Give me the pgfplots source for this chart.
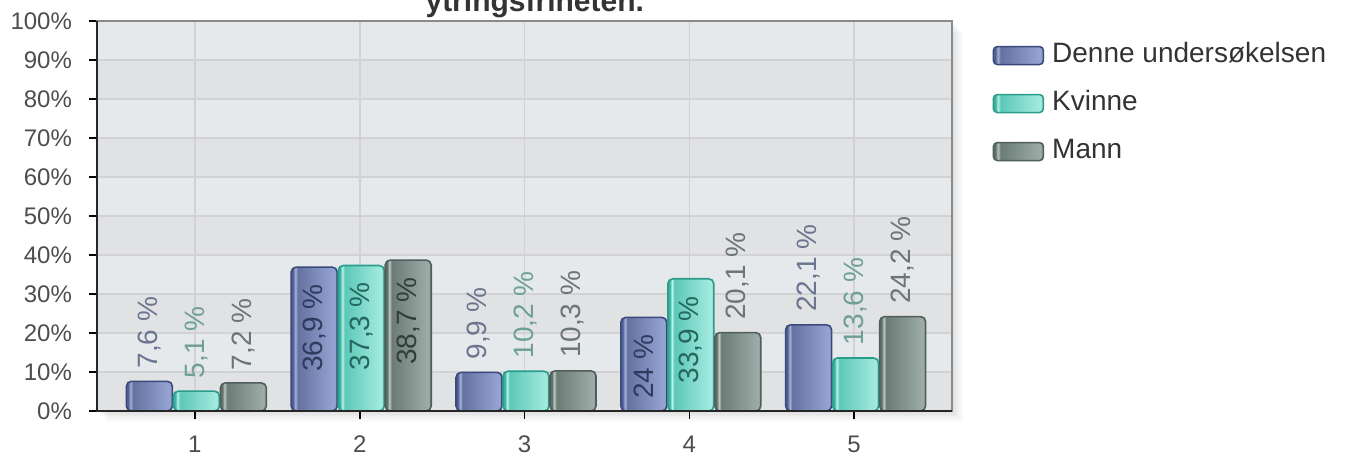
\documentclass[border=0pt]{standalone}
\usepackage{pgfplots}
\pgfplotsset{compat=1.18}
\usepackage{pgfplotstable}
\usepackage{fontspec}
\setmainfont{Liberation Sans}

% bar colours
\definecolor{bE}{HTML}{3B4A7A}\definecolor{bD}{HTML}{506096}
\definecolor{bH}{HTML}{A8B3DA}\definecolor{bM}{HTML}{63729F}\definecolor{bR}{HTML}{96A4D4}
\definecolor{tE}{HTML}{2A9C8A}\definecolor{tD}{HTML}{3DB09E}
\definecolor{tH}{HTML}{B8F4EA}\definecolor{tM}{HTML}{5CC8B8}\definecolor{tR}{HTML}{A4EAE0}
\definecolor{gE}{HTML}{4F5E5A}\definecolor{gD}{HTML}{5E6E69}
\definecolor{gH}{HTML}{C0C9C6}\definecolor{gM}{HTML}{6B7B76}\definecolor{gR}{HTML}{9DACA7}
% text colours
\definecolor{bluetxt}{HTML}{6B7590}\definecolor{bluein}{HTML}{2F3B5E}
\definecolor{tealtxt}{HTML}{6FA096}\definecolor{tealin}{HTML}{24675C}
\definecolor{graytxt}{HTML}{6A7673}\definecolor{grayin}{HTML}{333D3A}
\definecolor{tickgray}{HTML}{4D4D4D}
\definecolor{gridc}{HTML}{D2D2D4}
\definecolor{boxgray}{HTML}{8A8A8A}
\definecolor{bandL}{HTML}{E6E9EC}\definecolor{bandD}{HTML}{E1E2E4}

\pgfdeclarehorizontalshading{blueshade}{100bp}{color(0bp)=(bD); color(25bp)=(bD); color(27bp)=(bD); color(29.5bp)=(bH); color(32bp)=(bM); color(72bp)=(bR); color(75bp)=(bR!85!black); color(100bp)=(bR!85!black)}
\pgfdeclarehorizontalshading{tealshade}{100bp}{color(0bp)=(tD); color(25bp)=(tD); color(27bp)=(tD); color(29.5bp)=(tH); color(32bp)=(tM); color(72bp)=(tR); color(75bp)=(tR!85!black); color(100bp)=(tR!85!black)}
\pgfdeclarehorizontalshading{grayshade}{100bp}{color(0bp)=(gD); color(25bp)=(gD); color(27bp)=(gD); color(29.5bp)=(gH); color(32bp)=(gM); color(72bp)=(gR); color(75bp)=(gR!85!black); color(100bp)=(gR!85!black)}
\pgfdeclareverticalshading{bands}{100bp}{color(0bp)=(bandD); color(25bp)=(bandD);
 color(30bp)=(bandD); color(30.01bp)=(bandL); color(35bp)=(bandL); color(35.01bp)=(bandD);
 color(40bp)=(bandD); color(40.01bp)=(bandL); color(45bp)=(bandL); color(45.01bp)=(bandD);
 color(50bp)=(bandD); color(50.01bp)=(bandL); color(55bp)=(bandL); color(55.01bp)=(bandD);
 color(60bp)=(bandD); color(60.01bp)=(bandL); color(65bp)=(bandL); color(65.01bp)=(bandD);
 color(70bp)=(bandD); color(70.01bp)=(bandL); color(75bp)=(bandL); color(100bp)=(bandL)}

% in = 1: label sits inside the bar
\pgfplotstableread{
x y in
1 7.6 0
2 36.9 1
3 9.9 0
4 24 1
5 22.1 0
}\denne
\pgfplotstableread{
x y in
1 5.1 0
2 37.3 1
3 10.2 0
4 33.9 1
5 13.6 0
}\kvinne
\pgfplotstableread{
x y in
1 7.2 0
2 38.7 1
3 10.3 0
4 20.1 0
5 24.2 0
}\mann

\pgfplotsset{
  bluebar/.style={bar shift=-22.75pt, draw=bE, line width=0.8pt, shading=blueshade, rounded corners=2.5pt},
  tealbar/.style={bar shift=0.75pt, draw=tE, line width=0.8pt, shading=tealshade, rounded corners=2.5pt},
  graybar/.style={bar shift=24.25pt, draw=gE, line width=0.8pt, shading=grayshade, rounded corners=2.5pt},
  only/.style={x filter/.expression={x==#1 ? x : nan}},
  lab/.style={forget plot, draw=none, fill=none, point meta=y,
    nodes near coords={\pgfmathprintnumber[fixed,precision=1,use comma]{\pgfplotspointmeta}\ \%},
    every node near coord/.append style={inner sep=0pt, font=\fontsize{14}{16}\selectfont}},
  above/.style={lab, every node near coord/.append style={yshift=6.25pt, rotate=90, anchor=west, text=#1},
    x filter/.expression={\thisrow{in}>0.5 ? nan : x}},
  inside/.style={lab, every node near coord/.append style={yshift=-8.5pt, rotate=90, anchor=east, text=#1},
    x filter/.expression={\thisrow{in}>0.5 ? x : nan}},
}

\begin{document}
\begin{tikzpicture}
% faint drop shadow behind the plot box
\foreach \s in {1,...,6}
  \fill[black, opacity=0.018] (\s*0.9pt,-\s*0.9pt) rectangle (427.5pt+\s*0.9pt,195pt-\s*0.9pt);
\begin{axis}[
  name=ax, at={(0,0)}, anchor=south west,
  scale only axis, width=427.5pt, height=195pt,
  xmin=0.406, xmax=5.594, ymin=0, ymax=100,
  xtick={1,2,3,4,5}, ytick={0,10,...,100},
  yticklabel={\pgfmathprintnumber{\tick}\%},
  /pgf/number format/assume math mode=true,
  tick align=outside, major tick length=4pt,
  xtick pos=left, ytick pos=left,
  tick style={black, line width=0.8pt},
  ticklabel style={font=\fontsize{12}{14}\selectfont, text=tickgray},
  yticklabel style={xshift=-5pt},
  xticklabel style={yshift=-5pt},
  grid=major, major grid style={draw=gridc, line width=0.8pt},
  axis background/.style={shading=bands},
  axis line style={draw=boxgray, line width=0.8pt},
  ybar, bar width=23pt,
  legend style={at={(1.04,0.956)}, anchor=north west, draw=none, fill=none,
    font=\fontsize{14}{16}\selectfont, text=black!80, row sep=11pt,
    nodes={inner sep=0pt, text height=10pt, text depth=3pt}},
  legend cell align=left,
  legend image code/.code={\draw[#1, rounded corners=2pt, line width=0.8pt] (0pt,-4.5pt) rectangle (25pt,4.5pt); \path (29pt,0pt);},
  title={ytringsfriheten.},
  every axis title shift=0pt,
  title style={at={(0.512,1)}, anchor=base, yshift=5pt, font=\bfseries\fontsize{15}{18}\selectfont, text=black!80},
]
% one plot per bar, so that each bar gets its own shading
\addplot[bluebar, only=1] table[x=x, y=y] {\denne};
\addplot[tealbar, only=1] table[x=x, y=y] {\kvinne};
\addplot[graybar, only=1] table[x=x, y=y] {\mann};
\legend{Denne undersøkelsen, Kvinne, Mann}
\pgfplotsinvokeforeach{2,...,5}{
  \addplot[bluebar, only=#1, forget plot] table[x=x, y=y] {\denne};
  \addplot[tealbar, only=#1, forget plot] table[x=x, y=y] {\kvinne};
  \addplot[graybar, only=#1, forget plot] table[x=x, y=y] {\mann};
}
\addplot[bar shift=-22.75pt, above=bluetxt] table[x=x, y=y] {\denne};
\addplot[bar shift=-22.75pt, inside=bluein] table[x=x, y=y] {\denne};
\addplot[bar shift=0.75pt, above=tealtxt] table[x=x, y=y] {\kvinne};
\addplot[bar shift=0.75pt, inside=tealin] table[x=x, y=y] {\kvinne};
\addplot[bar shift=24.25pt, above=graytxt] table[x=x, y=y] {\mann};
\addplot[bar shift=24.25pt, inside=grayin] table[x=x, y=y] {\mann};
\end{axis}
\draw[line width=1pt, black!85] (ax.north west) -- (ax.south west) -- (ax.south east);
\pgfresetboundingbox
\useasboundingbox (-48.5pt,-25.5pt) rectangle (628pt,205.5pt);
\end{tikzpicture}
\end{document}
